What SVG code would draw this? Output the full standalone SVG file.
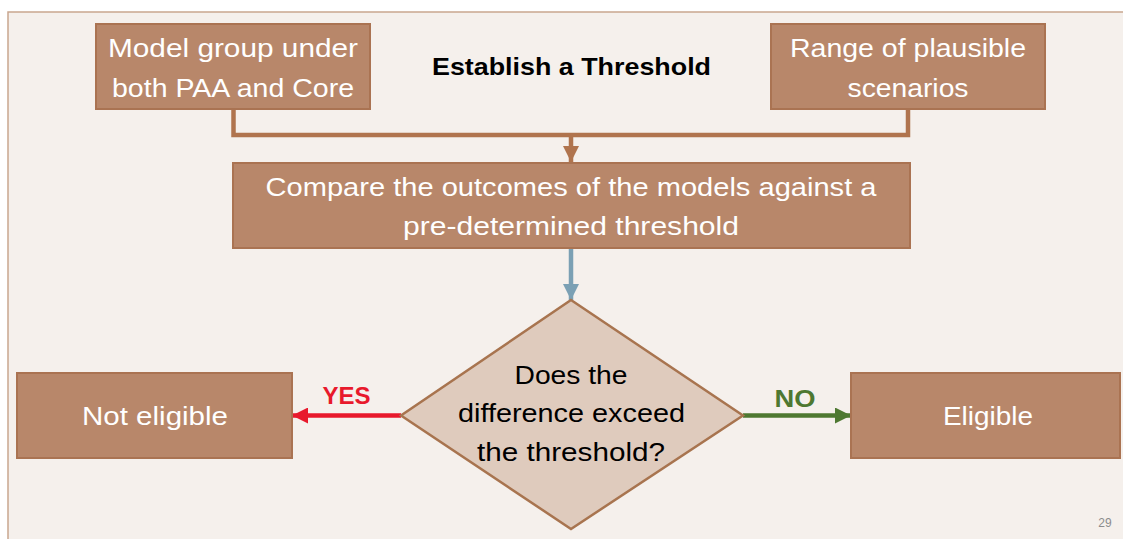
<svg xmlns="http://www.w3.org/2000/svg" width="1123" height="539" viewBox="0 0 1123 539">
  <defs>
    <style>
      .box { fill: #b8876a; stroke: #aa7352; stroke-width: 2; }
      .decision { fill: #dfcbbd; stroke: #a8744f; stroke-width: 2.5; }
      .lbl { font-family: "Liberation Sans", Arial, sans-serif; font-size: 26px; fill: #ffffff; text-anchor: middle; }
      .dlbl { font-family: "Liberation Sans", Arial, sans-serif; font-size: 26px; fill: #000000; text-anchor: middle; }
      .title { font-family: "Liberation Sans", Arial, sans-serif; font-size: 24px; font-weight: bold; fill: #000000; text-anchor: middle; }
      .tag { font-family: "Liberation Sans", Arial, sans-serif; font-size: 24px; font-weight: bold; text-anchor: middle; }
      .link { fill: none; stroke-width: 4.5; }
    </style>
    <marker id="headBrown" markerUnits="userSpaceOnUse" viewBox="0 0 16 16" refX="16" refY="8" markerWidth="16" markerHeight="16" orient="auto">
      <path d="M0,0 L16,8 L0,16 Z" fill="#b0744e"/>
    </marker>
    <marker id="headBlue" markerUnits="userSpaceOnUse" viewBox="0 0 16 16" refX="16" refY="8" markerWidth="16" markerHeight="16" orient="auto">
      <path d="M0,0 L16,8 L0,16 Z" fill="#7ba0b4"/>
    </marker>
    <marker id="headRed" markerUnits="userSpaceOnUse" viewBox="0 0 16 16" refX="16" refY="8" markerWidth="16" markerHeight="16" orient="auto">
      <path d="M0,0 L16,8 L0,16 Z" fill="#e8192c"/>
    </marker>
    <marker id="headGreen" markerUnits="userSpaceOnUse" viewBox="0 0 16 16" refX="16" refY="8" markerWidth="16" markerHeight="16" orient="auto">
      <path d="M0,0 L16,8 L0,16 Z" fill="#4e7831"/>
    </marker>
  </defs>

  <!-- page and slide frame -->
  <rect x="0" y="0" width="1123" height="539" fill="#ffffff"/>
  <rect x="8" y="12" width="1130" height="540" fill="#f5f0ec" stroke="#c9a68f" stroke-width="1.5"/>

  <!-- connectors -->
  <g id="connectors">
    <path class="link" d="M233.5,109 V135 H908 V109" stroke="#b0744e"/>
    <path class="link" d="M571,135 V162" stroke="#b0744e" marker-end="url(#headBrown)"/>
    <path class="link" d="M571,248 V300" stroke="#7ba0b4" marker-end="url(#headBlue)"/>
    <path class="link" d="M401,415.5 H292" stroke="#e8192c" marker-end="url(#headRed)"/>
    <path class="link" d="M743,415.5 H851" stroke="#4e7831" marker-end="url(#headGreen)"/>
    <text class="tag" x="346.5" y="404" fill="#e8192c" textLength="48" lengthAdjust="spacingAndGlyphs">YES</text>
    <text class="tag" x="795" y="407" fill="#4e7831" textLength="41" lengthAdjust="spacingAndGlyphs">NO</text>
  </g>

  <!-- title -->
  <g id="title">
    <text class="title" x="571.5" y="75" textLength="279" lengthAdjust="spacingAndGlyphs">Establish a Threshold</text>
  </g>

  <g id="model-group">
    <rect class="box" x="96" y="24" width="274" height="85"/>
    <text class="lbl" x="233" y="57" textLength="250" lengthAdjust="spacingAndGlyphs">Model group under</text>
    <text class="lbl" x="233" y="97" textLength="242" lengthAdjust="spacingAndGlyphs">both PAA and Core</text>
  </g>

  <g id="scenarios">
    <rect class="box" x="771" y="24" width="274" height="85"/>
    <text class="lbl" x="908" y="57" textLength="236" lengthAdjust="spacingAndGlyphs">Range of plausible</text>
    <text class="lbl" x="908" y="97" textLength="121" lengthAdjust="spacingAndGlyphs">scenarios</text>
  </g>

  <g id="compare">
    <rect class="box" x="233" y="163" width="677" height="85"/>
    <text class="lbl" x="571" y="196" textLength="611" lengthAdjust="spacingAndGlyphs">Compare the outcomes of the models against a</text>
    <text class="lbl" x="571" y="235" textLength="336" lengthAdjust="spacingAndGlyphs">pre-determined threshold</text>
  </g>

  <g id="decision">
    <path class="decision" d="M571,300 L743,415.5 L571,529 L401,415.5 Z"/>
    <text class="dlbl" x="571" y="384" textLength="113" lengthAdjust="spacingAndGlyphs">Does the</text>
    <text class="dlbl" x="571.5" y="422" textLength="227" lengthAdjust="spacingAndGlyphs">difference exceed</text>
    <text class="dlbl" x="571" y="461" textLength="188" lengthAdjust="spacingAndGlyphs">the threshold?</text>
  </g>

  <g id="not-eligible">
    <rect class="box" x="17" y="373" width="275" height="85"/>
    <text class="lbl" x="155" y="425" textLength="146" lengthAdjust="spacingAndGlyphs">Not eligible</text>
  </g>

  <g id="eligible">
    <rect class="box" x="851" y="373" width="269" height="85"/>
    <text class="lbl" x="988" y="425" textLength="90" lengthAdjust="spacingAndGlyphs">Eligible</text>
  </g>

  <!-- slide number -->
  <text x="1105" y="527" font-family="'Liberation Sans', Arial, sans-serif" font-size="12" fill="#8c8c8c" text-anchor="middle">29</text>
</svg>
